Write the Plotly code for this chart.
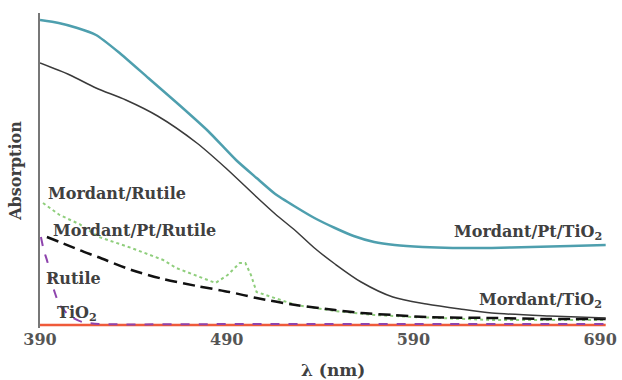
import plotly.graph_objects as go

# Mordant/Pt/TiO2 (teal)
x_pt_tio2 = [390, 400, 410, 420, 432, 448, 464, 480, 495, 506, 516, 527, 537, 548, 558, 569, 580, 595, 611, 632, 653, 674, 693]
y_pt_tio2 = [305, 302, 297, 290, 273, 247, 221, 194, 165, 147, 131, 118, 107, 97, 89, 83, 80, 78, 77, 77, 78, 79, 80]

# Mordant/TiO2 (dark solid)
x_m_tio2 = [390, 406, 420, 436, 453, 474, 489.5, 506, 516, 527, 537, 548, 562, 579, 597, 615, 632, 663, 693]
y_m_tio2 = [262, 250, 237, 225, 209, 182, 157, 128, 111, 94, 77, 61, 43, 28, 21, 16, 12, 9, 7]

# Mordant/Pt/Rutile (black dashed)
x_pt_rut = [393.7, 400.5, 411, 421, 439, 456, 474, 491.5, 506, 527, 548, 562, 579, 597, 632, 663, 693]
y_pt_rut = [88, 83, 75, 68, 55, 46, 39, 33, 27, 20, 15, 12, 10, 8, 7, 6, 6]

# Mordant/Rutile (green dotted)
x_m_rut = [391.6, 400.5, 411, 421.6, 439, 456, 463, 474, 484, 490.5, 497, 500, 503, 506, 516, 527, 548, 569, 590, 632, 693]
y_m_rut = [122, 110, 101, 88, 77, 65, 57, 49, 42, 50, 62, 62, 50, 33, 27, 20, 14, 10, 8, 5, 5]

# Rutile (purple dash-dot)
x_rut = [390.5, 392, 394, 396, 398, 400.5, 406, 412.6, 421.6, 500, 600, 693]
y_rut = [88, 75, 63, 45, 32, 20, 9, 3, 1, 1, 1, 1]

# TiO2 (red)
x_tio2 = [390, 490, 590, 693]
y_tio2 = [0, 0, 0, 0]

tick_vals = [390, 490, 590, 690]
tick_text = ["390", "490", "590", "690"]

FONT = "DejaVu Serif"
TXT = "#404040"

fig = go.Figure()
fig.add_trace(go.Scatter(x=x_tio2, y=y_tio2, mode="lines",
                         line=dict(color="#ef5a3a", width=2.5)))
fig.add_trace(go.Scatter(x=x_rut, y=y_rut, mode="lines",
                         line=dict(color="#8e44ad", width=2, dash="dash", shape="spline", smoothing=0.6)))
fig.add_trace(go.Scatter(x=x_m_rut, y=y_m_rut, mode="lines",
                         line=dict(color="#8fce7c", width=2, dash="dot")))
fig.add_trace(go.Scatter(x=x_pt_rut, y=y_pt_rut, mode="lines",
                         line=dict(color="#111111", width=2.5, dash="12px,6px", shape="spline", smoothing=0.8)))
fig.add_trace(go.Scatter(x=x_m_tio2, y=y_m_tio2, mode="lines",
                         line=dict(color="#3a3a3a", width=1.5, shape="spline", smoothing=0.8)))
fig.add_trace(go.Scatter(x=x_pt_tio2, y=y_pt_tio2, mode="lines",
                         line=dict(color="#4e9fae", width=2.5, shape="spline", smoothing=0.6)))

ann = [
    dict(text="Mordant/Rutile", x=393, y=132, xanchor="left"),
    dict(text="Mordant/Pt/Rutile", x=396, y=95, xanchor="left"),
    dict(text="Rutile", x=392, y=47, xanchor="left"),
    dict(text="TiO<sub>2</sub>", x=398, y=12, xanchor="left"),
    dict(text="Mordant/Pt/TiO<sub>2</sub>", x=692, y=93, xanchor="right"),
    dict(text="Mordant/TiO<sub>2</sub>", x=692, y=25, xanchor="right"),
]
for a in ann:
    fig.add_annotation(x=a["x"], y=a["y"], text="<b>" + a["text"] + "</b>",
                       xanchor=a["xanchor"], yanchor="middle", showarrow=False,
                       font=dict(family=FONT, size=16, color=TXT))

# x-axis title
fig.add_annotation(xref="paper", yref="paper", x=0.516, y=0, yshift=-42,
                   text="<b>λ (nm)</b>", showarrow=False, xanchor="center", yanchor="middle",
                   font=dict(family=FONT, size=17, color=TXT))

fig.update_layout(
    width=622, height=380,
    margin=dict(l=40, r=5, t=13, b=52),
    paper_bgcolor="white", plot_bgcolor="white",
    showlegend=False,
    xaxis=dict(range=[390, 693.7], tickvals=tick_vals,
               ticktext=["<b>" + t + "</b>" for t in tick_text],
               showgrid=False, zeroline=False, showline=False, ticks="",
               ticklabeloverflow="allow",
               tickfont=dict(family=FONT, size=16, color="#555555")),
    yaxis=dict(range=[-3, 312], showgrid=False, zeroline=False,
               showline=True, linecolor="#777777", linewidth=2,
               showticklabels=False, ticks="",
               title=dict(text="<b>Absorption</b>", standoff=12,
                          font=dict(family=FONT, size=16, color=TXT))),
)

fig.write_html("out.html")
